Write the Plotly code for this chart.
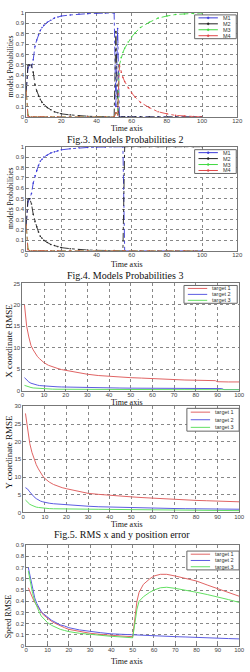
import plotly.graph_objects as go

W, H = 250, 672

# ---------------- data ----------------
# Panel 1: models probabilities (Fig.3)
t1 = [0, 1, 2, 3, 4, 5, 6, 7, 8, 9, 10, 12, 14, 16, 18, 20, 25, 30, 35, 40, 45, 50,
      51, 52, 53, 54, 55, 56, 58, 60, 62, 65, 70, 75, 80, 85, 90, 95, 100]
p1_m1 = [0.25, 0.47, 0.5, 0.48, 0.55, 0.68, 0.74, 0.79, 0.83, 0.86, 0.88, 0.91, 0.93, 0.95, 0.96, 0.97,
         0.98, 0.99, 0.993, 0.996, 0.998, 1.0,
         0.1, 0.85, 0, 0, 0, 0, 0, 0, 0, 0, 0, 0, 0, 0, 0, 0, 0]
p1_m2 = [0.25, 0.5, 0.5, 0.5, 0.43, 0.31, 0.25, 0.2, 0.17, 0.14, 0.12, 0.09, 0.07, 0.05, 0.04, 0.03,
         0.02, 0.01, 0.007, 0.004, 0.002, 0.0,
         0.82, 0.1, 0, 0, 0, 0, 0, 0, 0, 0, 0, 0, 0, 0, 0, 0, 0]
p1_m3 = [0.25, 0.02, 0, 0, 0, 0, 0, 0, 0, 0, 0, 0, 0, 0, 0, 0, 0, 0, 0, 0, 0, 0,
         0.04, 0.03, 0.5, 0.57, 0.62, 0.66, 0.72, 0.77, 0.81, 0.86, 0.91, 0.95, 0.97, 0.985, 0.99, 0.995, 1.0]
p1_m4 = [0.25, 0.01, 0, 0, 0, 0, 0, 0, 0, 0, 0, 0, 0, 0, 0, 0, 0, 0, 0, 0, 0, 0,
         0.04, 0.02, 0.5, 0.43, 0.38, 0.34, 0.28, 0.23, 0.19, 0.14, 0.09, 0.05, 0.03, 0.015, 0.01, 0.005, 0.0]

# Panel 2: models probabilities (Fig.4)
t2 = [0, 1, 2, 3, 4, 5, 6, 7, 8, 9, 10, 12, 14, 16, 18, 20, 25, 30, 35, 40, 45, 50,
      55, 56, 60, 65, 70, 75, 80, 85, 90, 95, 100]
p2_m1 = [0.25, 0.47, 0.5, 0.55, 0.65, 0.72, 0.77, 0.82, 0.86, 0.88, 0.9, 0.92, 0.94, 0.95, 0.96, 0.97,
         0.98, 0.99, 0.993, 0.996, 0.998, 0.999,
         1.0, 0, 0, 0, 0, 0, 0, 0, 0, 0, 0]
p2_m2 = [0.25, 0.5, 0.5, 0.45, 0.35, 0.28, 0.23, 0.18, 0.14, 0.12, 0.1, 0.08, 0.06, 0.05, 0.04, 0.03,
         0.02, 0.01, 0.007, 0.004, 0.002, 0.001,
         0.0, 1.0, 1, 1, 1, 1, 1, 1, 1, 1, 1]
p2_m3 = [0.25, 0.02] + [0] * 31
p2_m4 = [0.25, 0.01] + [0] * 31

# Panel 3: X coordinate RMSE
x3 = [1, 2, 3, 4, 5, 6, 7, 8, 9, 10, 12, 14, 16, 18, 20, 25, 30, 35, 40, 45, 50, 55, 60, 65,
      70, 75, 80, 85, 89, 90, 92, 93, 95, 100]
x3_t1 = [20, 15, 12.5, 10.5, 9.5, 8.6, 7.9, 7.4, 6.9, 6.5, 5.9, 5.5, 5.2, 4.9, 4.7, 4.2, 3.8, 3.5,
         3.3, 3.1, 3.0, 2.9, 2.75, 2.6, 2.5, 2.45, 2.4, 2.35, 2.3, 2.05, 2.0, 2.0, 2.0, 2.0]
x3_t2 = [3.0, 2.4, 2.0, 1.7, 1.5, 1.35, 1.25, 1.15, 1.1, 1.05, 0.95, 0.9, 0.87, 0.83, 0.8, 0.75, 0.7,
         0.65, 0.6, 0.58, 0.55, 0.52, 0.5, 0.5, 0.5, 0.48, 0.45, 0.45, 0.45, 0.45, 0.45, 0.2, 0.2, 0.2]
x3_t3 = [1.2, 1.0, 0.8, 0.7, 0.6, 0.55, 0.5, 0.45, 0.42, 0.4, 0.35, 0.32, 0.3, 0.29, 0.28, 0.27, 0.25,
         0.24, 0.23, 0.22, 0.22, 0.21, 0.2, 0.2, 0.2, 0.2, 0.19, 0.19, 0.19, 0.19, 0.18, 0.18, 0.18, 0.18]

# Panel 4: Y coordinate RMSE
x4 = [1, 2, 3, 4, 5, 6, 7, 8, 9, 10, 12, 14, 16, 18, 20, 25, 30, 35, 40, 45, 50, 55, 60, 65,
      70, 75, 80, 85, 90, 95, 100]
y4_t1 = [28, 23, 19.5, 17, 15, 13.5, 12.3, 11.2, 10.3, 9.6, 8.6, 7.9, 7.4, 7.0, 6.7, 6.0, 5.4, 5.1,
         4.8, 4.6, 4.4, 4.2, 4.0, 3.85, 3.7, 3.55, 3.4, 3.3, 3.2, 3.1, 3.0]
y4_t2 = [7.0, 6.6, 5.8, 5.0, 4.4, 3.9, 3.5, 3.2, 3.0, 2.8, 2.6, 2.45, 2.35, 2.25, 2.1, 1.9, 1.75, 1.6,
         1.5, 1.42, 1.35, 1.28, 1.2, 1.15, 1.1, 1.05, 1.0, 0.98, 0.95, 0.92, 0.9]
y4_t3 = [3.5, 2.8, 2.3, 2.0, 1.7, 1.5, 1.4, 1.3, 1.2, 1.15, 1.08, 1.03, 1.0, 0.97, 0.95, 0.92, 0.9,
         0.88, 0.85, 0.82, 0.8, 0.75, 0.7, 0.68, 0.65, 0.62, 0.6, 0.58, 0.55, 0.52, 0.5]

# Panel 5: Speed RMSE
x5 = [1, 2, 3, 4, 5, 6, 7, 8, 10, 12, 14, 16, 18, 20, 25, 30, 35, 40, 45, 50,
      51, 52, 53, 55, 58, 60, 63, 66, 70, 75, 80, 85, 90, 95, 100]
s5_t1 = [0.52, 0.47, 0.43, 0.39, 0.36, 0.33, 0.3, 0.28, 0.25, 0.22, 0.2, 0.18, 0.165, 0.15, 0.13,
         0.115, 0.105, 0.095, 0.09, 0.085, 0.23, 0.4, 0.48, 0.55, 0.6, 0.625, 0.64, 0.64, 0.625,
         0.6, 0.58, 0.545, 0.51, 0.48, 0.445]
s5_t2 = [0.7, 0.6, 0.5, 0.43, 0.38, 0.34, 0.31, 0.29, 0.26, 0.23, 0.21, 0.19, 0.18, 0.165, 0.145,
         0.13, 0.12, 0.11, 0.105, 0.1, 0.098, 0.097, 0.096, 0.095, 0.092, 0.09, 0.088, 0.087, 0.085,
         0.082, 0.08, 0.076, 0.072, 0.068, 0.065]
s5_t3 = [0.67, 0.55, 0.47, 0.4, 0.35, 0.31, 0.27, 0.25, 0.21, 0.185, 0.165, 0.15, 0.14, 0.13, 0.115,
         0.105, 0.095, 0.088, 0.082, 0.075, 0.2, 0.33, 0.4, 0.44, 0.48, 0.5, 0.52, 0.525, 0.515,
         0.5, 0.48, 0.46, 0.44, 0.415, 0.39]

model_names = ["M1", "M2", "M3", "M4"]
model_colors = ["#3a3ad8", "#222222", "#3fd83f", "#e04848"]
target_names = ["target 1", "target 2", "target 3"]
target_colors = ["#e06464", "#5c5ce2", "#62e062"]

# ---------------- layout helpers ----------------
def px(x):
    return x / W

def py(y):
    return 1 - y / H

panels = [
    dict(box=(25, 243, 10, 115), xr=[0, 120], xdt=20, yr=[0, 1], ydt=0.1),
    dict(box=(25, 243, 145, 250), xr=[0, 120], xdt=20, yr=[0, 1], ydt=0.1),
    dict(box=(21, 245, 283, 391), xr=[0, 100], xdt=10, yr=[0, 25], ydt=5),
    dict(box=(22, 245, 407, 514), xr=[0, 100], xdt=10, yr=[0, 30], ydt=5),
    dict(box=(25, 245, 547, 649), xr=[0, 100], xdt=10, yr=[0, 0.9], ydt=0.1),
]

fig = go.Figure()

tickfont = dict(family="Liberation Sans", size=6, color="#444")
layout_axes = {}
for i, p in enumerate(panels):
    n = "" if i == 0 else str(i + 1)
    x0, x1, y0, y1 = p["box"]
    common = dict(showline=True, mirror=True, linecolor="#777", linewidth=1,
                  ticks="inside", ticklen=2, tickcolor="#777", tickfont=tickfont,
                  showgrid=True, gridcolor="#888", griddash="dot", gridwidth=0.5,
                  zeroline=False, fixedrange=True)
    layout_axes["xaxis" + n] = dict(domain=[px(x0), px(x1)], range=p["xr"], dtick=p["xdt"],
                                    tick0=0, anchor="y" + n, ticklabelstandoff=-2, **common)
    layout_axes["yaxis" + n] = dict(domain=[py(y1), py(y0)], range=p["yr"], dtick=p["ydt"],
                                    tick0=0, anchor="x" + n, **common)

def add_model_traces(t, series, n):
    for name, ys, col in zip(model_names, series, model_colors):
        fig.add_trace(go.Scatter(x=t, y=ys, name=name, mode="lines+markers",
                                 line=dict(color=col, width=0.9, dash="dashdot"),
                                 marker=dict(color=col, size=1.6),
                                 xaxis="x" + n, yaxis="y" + n, showlegend=False))

def add_target_traces(t, series, n):
    for name, ys, col in zip(target_names, series, target_colors):
        fig.add_trace(go.Scatter(x=t, y=ys, name=name, mode="lines",
                                 line=dict(color=col, width=1),
                                 xaxis="x" + n, yaxis="y" + n, showlegend=False))

add_model_traces(t1, [p1_m1, p1_m2, p1_m3, p1_m4], "")
add_model_traces(t2, [p2_m1, p2_m2, p2_m3, p2_m4], "2")
add_target_traces(x3, [x3_t1, x3_t2, x3_t3], "3")
add_target_traces(x4, [y4_t1, y4_t2, y4_t3], "4")
add_target_traces(x5, [s5_t1, s5_t2, s5_t3], "5")

# ---------------- text ----------------
serif = "Liberation Serif"
annotations = []

def text(s, x, y, size, angle=0, anchor="center", color="#111"):
    annotations.append(dict(text=s, x=px(x), y=py(y), xref="paper", yref="paper",
                            showarrow=False, textangle=angle, xanchor=anchor, yanchor="middle",
                            font=dict(family=serif, size=size, color=color)))

ytitles = [("models Probabilities", 9, 64, 7.5), ("models Probabilities", 9, 197, 7.5),
           ("X coordinate RMSE", 7, 341, 9), ("Y coordinate RMSE", 7, 453, 9),
           ("Speed RMSE", 7, 619, 8)]
for s, x, y, sz in ytitles:
    text(s, x, y, sz, angle=-90)

for y in [127, 264, 403, 526, 664]:
    text("Time axis", 129, y, 8)

text("Fig.3. Models Probabilities 2", 127, 138, 10)
text("Fig.4. Models Probabilities 3", 127, 275, 10)
text("Fig.5. RMS x and y position error", 124, 536, 10)

# ---------------- legends (boxes in the upper right of each panel) ----------------
shapes = []

def legend(box, names, colors, markers, dash):
    lx0, lx1, ly0, ly1 = box
    shapes.append(dict(type="rect", xref="paper", yref="paper", x0=px(lx0), x1=px(lx1),
                       y0=py(ly1), y1=py(ly0), fillcolor="white",
                       line=dict(color="#666", width=1), layer="above"))
    nrow = len(names)
    step = (ly1 - ly0) / nrow
    for k, (nm, col) in enumerate(zip(names, colors)):
        yy = ly0 + step * (k + 0.5)
        sx0, sx1 = lx0 + 4, lx0 + 24
        shapes.append(dict(type="line", xref="paper", yref="paper", x0=px(sx0), x1=px(sx1),
                           y0=py(yy), y1=py(yy), line=dict(color=col, width=1, dash=dash),
                           layer="above"))
        if markers:
            cx = (sx0 + sx1) / 2
            shapes.append(dict(type="circle", xref="paper", yref="paper",
                               x0=px(cx - 1), x1=px(cx + 1), y0=py(yy + 1), y1=py(yy - 1),
                               fillcolor=col, line=dict(color=col, width=0.5), layer="above"))
        annotations.append(dict(text=nm, x=px(sx1 + 3), y=py(yy), xref="paper", yref="paper",
                                showarrow=False, xanchor="left", yanchor="middle",
                                font=dict(family="Liberation Sans", size=5.5, color="#333")))

legend((199, 242, 12, 36), model_names, model_colors, True, "solid")
legend((199, 242, 148, 172), model_names, model_colors, True, "solid")
legend((188, 243, 285, 303), target_names, target_colors, False, "solid")
legend((191, 245, 409, 432), target_names, target_colors, False, "solid")
legend((191, 245, 553, 572), target_names, target_colors, False, "solid")

fig.update_layout(width=W, height=H, margin=dict(l=0, r=0, t=0, b=0),
                  paper_bgcolor="white", plot_bgcolor="white",
                  showlegend=False, annotations=annotations, shapes=shapes,
                  **layout_axes)

fig.write_html("out.html", config=dict(displayModeBar=False))
